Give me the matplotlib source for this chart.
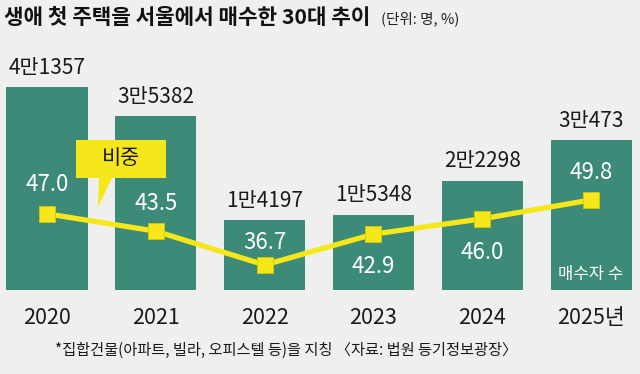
import matplotlib
matplotlib.use("Agg")
import matplotlib.pyplot as plt
import matplotlib.transforms as mtransforms
from matplotlib.patches import Polygon

plt.rcParams['font.family'] = ['Liberation Sans Narrow', 'Noto Sans CJK KR', 'DejaVu Sans']

years = ["2020", "2021", "2022", "2023", "2024", "2025년"]
buyers = [41357, 35382, 14197, 15348, 22298, 30473]
buyer_labels = ["4만1357", "3만5382", "1만4197", "1만5348", "2만2298", "3만473"]
shares = [47.0, 43.5, 36.7, 42.9, 46.0, 49.8]
share_offsets = [21, 20, 16.5, -23, -24, 20]  # label placement (points)

BG = "#efefef"
BAR = "#3c8a77"
YEL = "#f6e71a"

W, H = 640, 374
fig = plt.figure(figsize=(6.4, 3.74), dpi=100, facecolor=BG)

def fx(px):
    return px / W

def fy(py):
    return 1 - py / H

ax = fig.add_axes([0, fy(290), 1, (290 - 60) / H])
ax.set_facecolor(BG)
ax.patch.set_alpha(0)
x = list(range(len(years)))
ax.bar(x, buyers, width=0.745, color=BAR, zorder=1)
ax.set_xlim(-0.432, 5.45)
ax.set_ylim(0, 46850)
ax.axis('off')

for i, (v, lab) in enumerate(zip(buyers, buyer_labels)):
    ax.annotate(lab, (i, v), xytext=(0, 14), textcoords='offset points',
                ha='center', va='center', fontsize=15, color='#1a1a1a')

ax2 = ax.twinx()
ax2.set_ylim(31.65, 78.0)
ax2.axis('off')
ax2.plot(x, shares, color=YEL, lw=3.8, marker='s', markersize=11,
         markerfacecolor=YEL, markeredgecolor='#d8c800', markeredgewidth=0.6,
         zorder=3)
for i, (p, off) in enumerate(zip(shares, share_offsets)):
    ax2.annotate(f"{p:.1f}", (i, p), xytext=(0, off), textcoords='offset points',
                 ha='center', va='center', fontsize=16, color='white')

trans = mtransforms.blended_transform_factory(ax.transData, fig.transFigure)
for i, yl in enumerate(years):
    fig.text(i, fy(318), yl, transform=trans, ha='center', va='center',
             fontsize=15.5, color='#1a1a1a')

# 매수자 수 label inside last bar
fig.text(5, fy(275), "매수자 수", transform=trans, ha='center', va='center',
         fontsize=12, color='white', family=['Noto Sans CJK KR'])

# callout "비중"
pts = [(76, 140), (166, 140), (166, 178), (112, 178), (98, 207), (99, 178), (76, 178)]
poly = Polygon([(fx(a), fy(b)) for a, b in pts], closed=True,
               transform=fig.transFigure, facecolor=YEL, edgecolor='none', zorder=5)
fig.patches.append(poly)
fig.text(fx(121), fy(158), "비중", ha='center', va='center', fontsize=15,
         color='#1a1a1a', family=['Noto Sans CJK KR'], zorder=6)

# title
fig.text(fx(4), fy(18), "생애 첫 주택을 서울에서 매수한 30대 추이", ha='left', va='center',
         fontsize=15.3, fontweight='heavy', color='#111111',
         family=['Noto Sans CJK KR'])
fig.text(fx(381), fy(19), "(단위: 명, %)", ha='left', va='center',
         fontsize=10.5, color='#222222', family=['Noto Sans CJK KR'])

# footnote
fig.text(fx(55), fy(350), "*집합건물(아파트, 빌라, 오피스텔 등)을 지칭 〈자료: 법원 등기정보광장〉",
         ha='left', va='center', fontsize=11, fontweight='medium', color='#1a1a1a',
         family=['Noto Sans CJK KR'])

fig.savefig("out.png", dpi=100, facecolor=BG)
